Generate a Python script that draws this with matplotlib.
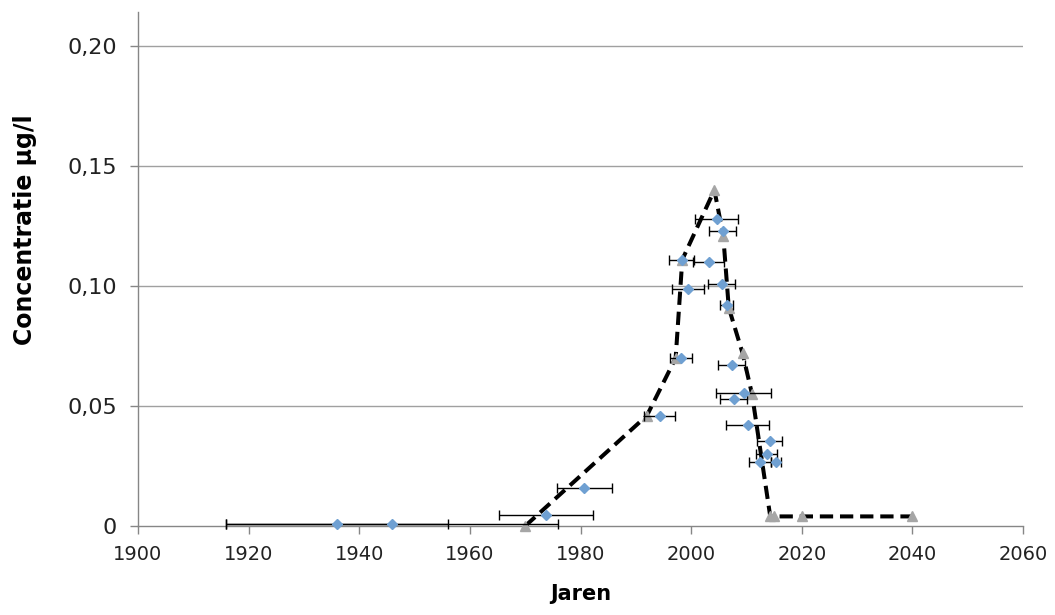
import matplotlib
matplotlib.use("Agg")
import matplotlib.pyplot as plt
from matplotlib.ticker import FixedLocator

# Measurements (blue diamonds) with horizontal uncertainty
meas_year = [1936, 1946, 1973.7, 1980.7, 1994.3, 1998.1, 1998.3, 1999.5, 2003.2,
             2004.6, 2005.5, 2005.7, 2006.4, 2007.3, 2007.7, 2009.5, 2010.2,
             2012.4, 2013.7, 2014.2, 2015.3]
meas_conc = [0.001, 0.001, 0.0046, 0.016, 0.046, 0.070, 0.111, 0.0987, 0.110,
             0.128, 0.101, 0.123, 0.092, 0.067, 0.053, 0.0553, 0.042,
             0.0267, 0.030, 0.0354, 0.0267]
meas_xerr = [20, 30, 8.5, 5, 2.8, 2, 2.3, 2.9, 2.8,
             3.9, 2.5, 2.4, 1.2, 2.5, 2.4, 5, 3.9,
             2, 1.9, 2.3, 0.9]

# Model curve (grey triangles, dashed line)
model_year = [1970, 1992, 1997.2, 1998.4, 2004.2, 2005.8, 2006.8, 2009.3, 2011.0,
              2014.3, 2015.0, 2020, 2040]
model_conc = [0.0, 0.046, 0.070, 0.111, 0.140, 0.121, 0.091, 0.072, 0.055,
              0.004, 0.004, 0.004, 0.004]

x_ticks = [1900, 1920, 1940, 1960, 1980, 2000, 2020, 2040, 2060]
y_ticks = [0, 0.05, 0.10, 0.15, 0.20]
y_tick_labels = ["0", "0,05", "0,10", "0,15", "0,20"]

fig = plt.figure(figsize=(10.55, 6.15), dpi=100)
ax = fig.add_axes([0.1308, 0.1447, 0.9697 - 0.1308, 0.9805 - 0.1447])

ax.set_xlim(1900, 2060)
ax.set_ylim(0, 0.2142)

# gridlines
for yv in y_ticks[1:]:
    ax.axhline(yv, color="#a0a0a0", lw=1.0, zorder=1)

# model line + triangles
ax.plot(model_year, model_conc, color="black", lw=2.9,
        linestyle=(0, (3.3, 1.7)), zorder=3, clip_on=False,
        dash_capstyle="butt")
ax.plot(model_year, model_conc, linestyle="none", marker="^", markersize=6.5,
        color="#a6a6a6", markeredgecolor="#a6a6a6", zorder=4, clip_on=False)

# measurements with error bars
ax.errorbar(meas_year, meas_conc, xerr=meas_xerr, fmt="none", ecolor="black",
            elinewidth=1.0, capsize=3.5, capthick=1.0, zorder=5, clip_on=False)
ax.plot(meas_year, meas_conc, linestyle="none", marker="D", markersize=5.5,
        color="#6fa0d2", markeredgecolor="#6fa0d2", zorder=6, clip_on=False)

# axes styling
for s in ["top", "right"]:
    ax.spines[s].set_visible(False)
ax.spines["left"].set_color("#868686")
ax.spines["bottom"].set_color("#868686")
ax.spines["left"].set_linewidth(1.0)
ax.spines["bottom"].set_linewidth(1.0)

ax.xaxis.set_major_locator(FixedLocator(x_ticks))
ax.yaxis.set_major_locator(FixedLocator(y_ticks))
ax.set_yticklabels(y_tick_labels)
ax.tick_params(axis="both", direction="out", length=6, color="#868686", width=1.0)
ax.tick_params(axis="x", labelsize=14, pad=8, labelcolor="#222222")
ax.tick_params(axis="y", labelsize=16, pad=9, labelcolor="#222222")

ax.set_xlabel("Jaren", fontsize=15, fontweight="bold", labelpad=14)
ax.set_ylabel("Concentratie µg/l", fontsize=17, fontweight="bold")
ax.yaxis.set_label_coords(-0.114, 0.576)

fig.savefig("out.png", dpi=100, facecolor="white")
